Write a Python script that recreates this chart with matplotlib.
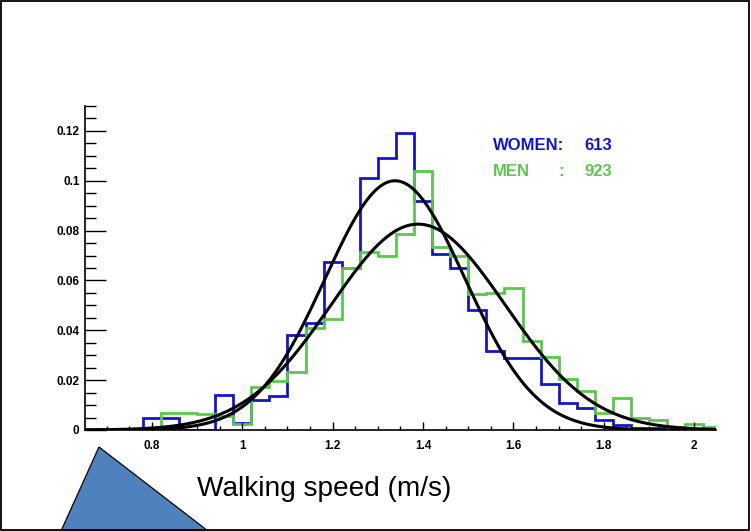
import numpy as np
import matplotlib
matplotlib.use("Agg")
import matplotlib.pyplot as plt
from matplotlib.patches import Polygon, Rectangle
from matplotlib.ticker import MultipleLocator, FuncFormatter

# histogram binning (m/s)
bin_width = 0.04
women_first_edge = 0.78
men_first_edge = 0.82

# normalised counts per bin
women_density = [0.005, 0.005, 0.0, 0.0, 0.014, 0.003, 0.012, 0.0135, 0.038, 0.043,
                 0.0676, 0.065, 0.101, 0.109, 0.119, 0.092, 0.0705, 0.065, 0.048, 0.0315,
                 0.029, 0.0288, 0.0185, 0.0107, 0.009, 0.004, 0.002, 0.001, 0.001]
men_density = [0.007, 0.0068, 0.0063, 0.0055, 0.0025, 0.0174, 0.0198, 0.0234, 0.0408, 0.0444,
               0.0648, 0.0716, 0.070, 0.0786, 0.104, 0.0736, 0.070, 0.0546, 0.0551, 0.0571,
               0.0359, 0.0294, 0.0204, 0.0158, 0.007, 0.0127, 0.0047, 0.004, 0.0013, 0.0023,
               0.0013]

women_count = 613
men_count = 923

# gaussian fits: amplitude, mean, sigma
women_fit = (0.100, 1.338, 0.155)
men_fit = (0.0826, 1.389, 0.193)

x_range = (0.651, 2.048)
y_range = (0.0, 0.13)

WOMEN_COLOR = "#1515c8"
MEN_COLOR = "#5cc64e"
FONT = ["Liberation Sans", "DejaVu Sans"]


def gauss(x, amp, mu, sigma):
    return amp * np.exp(-0.5 * ((x - mu) / sigma) ** 2)


fig = plt.figure(figsize=(7.51, 5.31), dpi=100)
W, H = 751.0, 531.0
ax = fig.add_axes([84.5 / W, 1 - 430 / H, (716 - 84.5) / W, (430 - 106) / H])

women_edges = women_first_edge + bin_width * np.arange(len(women_density) + 1)
men_edges = men_first_edge + bin_width * np.arange(len(men_density) + 1)

ax.stairs(women_density, women_edges, baseline=0, color=WOMEN_COLOR, lw=2.0)
ax.stairs(men_density, men_edges, baseline=0, color=MEN_COLOR, lw=2.0)

xs = np.linspace(x_range[0], x_range[1], 500)
ax.plot(xs, gauss(xs, *women_fit), color="black", lw=2.2)
ax.plot(xs, gauss(xs, *men_fit), color="black", lw=2.2)

ax.set_xlim(*x_range)
ax.set_ylim(*y_range)

for side in ("top", "right"):
    ax.spines[side].set_visible(False)
for side in ("left", "bottom"):
    ax.spines[side].set_linewidth(1.2)

ax.xaxis.set_major_locator(MultipleLocator(0.2))
ax.xaxis.set_minor_locator(MultipleLocator(0.05))
ax.yaxis.set_major_locator(MultipleLocator(0.02))
ax.yaxis.set_minor_locator(MultipleLocator(0.005))
fmt = FuncFormatter(lambda v, p: "%g" % round(v, 4))
ax.xaxis.set_major_formatter(fmt)
ax.yaxis.set_major_formatter(fmt)

ax.tick_params(axis="y", which="major", direction="in", length=15, width=1.0, pad=3.6)
ax.tick_params(axis="y", which="minor", direction="in", length=7.7, width=1.0)
ax.tick_params(axis="x", which="major", direction="in", length=5.5, width=1.0, pad=7)
ax.tick_params(axis="x", which="minor", direction="in", length=3.2, width=1.0)
for lab in ax.get_xticklabels() + ax.get_yticklabels():
    lab.set_fontfamily(FONT)
    lab.set_fontweight("bold")
    lab.set_fontsize(8.5)

# counts box
txt = dict(family=FONT, weight="bold", fontsize=12, va="center", ha="left")
fig.text(492.7 / W, 1 - 146 / H, "WOMEN:", color=WOMEN_COLOR, **txt)
fig.text(584 / W, 1 - 146 / H, str(women_count), color=WOMEN_COLOR, **txt)
fig.text(492.7 / W, 1 - 171.7 / H, "MEN", color=MEN_COLOR, **txt)
fig.text(558 / W, 1 - 171.7 / H, ":", color=MEN_COLOR, **txt)
fig.text(584 / W, 1 - 171.7 / H, str(men_count), color=MEN_COLOR, **txt)

# axis caption and pointer shape
fig.text(197 / W, 1 - 489 / H, "Walking speed (m/s)", family=FONT,
         fontsize=20.2, va="center", ha="left", color="black")

tri = Polygon([(99 / W, 1 - 447 / H), (61 / W, 0.0), (208 / W, 0.0)], closed=True,
              transform=fig.transFigure, facecolor="#4f81bd", edgecolor="black", lw=0.9)
fig.patches.append(tri)

border = Rectangle((0.0015, 0.002), 0.996, 0.996, transform=fig.transFigure,
                   fill=False, edgecolor="black", lw=1.3)
fig.patches.append(border)

fig.savefig("out.png", dpi=100)
